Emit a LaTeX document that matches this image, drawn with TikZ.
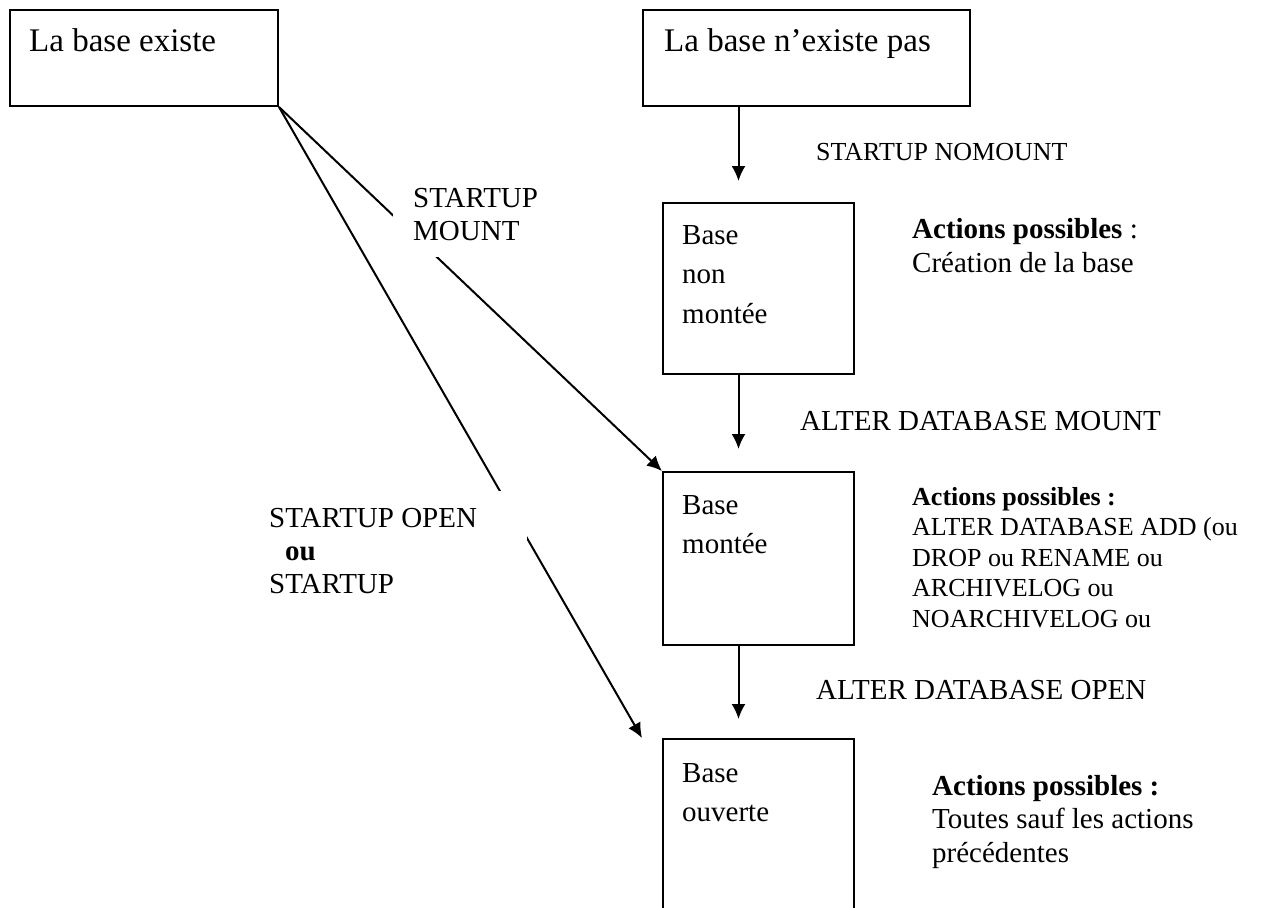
\documentclass[tikz,border=0pt]{standalone}
\usepackage{fontspec}
\setmainfont{Liberation Serif}
\usetikzlibrary{arrows.meta,positioning}

\begin{document}
\begin{tikzpicture}[x=1pt,y=-1pt,
    etat/.style={draw,line width=2pt,inner sep=0pt},
    titre/.style={anchor=base west,inner sep=0pt,font=\fontsize{33}{40}\selectfont},
    dedans/.style={anchor=base west,inner sep=0pt,align=flush left,text width=160pt,font=\fontsize{29}{39.5}\selectfont},
    cmd/.style={anchor=base west,inner sep=0pt,align=flush left,font=\fontsize{29}{33}\selectfont},
    bloc/.style={cmd,text width=#1},
    fleche/.style={line width=2pt,-{Latex[length=15pt,width=14pt]}}]
    \useasboundingbox (0,0) rectangle (1270,908);
    \clip (0,0) rectangle (1270,908);
    \fill[white] (0,0) rectangle (1270,908);

    % les etats
    \node[etat,minimum width=268pt,minimum height=96pt] (existe) at (144,58) {};
    \node[etat,minimum width=327pt,minimum height=96pt] (nexiste) at (806.5,58) {};
    \node[etat,minimum width=191pt,minimum height=171pt] (nonmonte) at (758.5,288.5) {};
    \node[etat,minimum width=191pt,minimum height=173pt] (monte) at (758.5,558.5) {};
    \node[etat,minimum width=191pt,minimum height=200pt] (ouverte) at (758.5,839) {};

    \node[titre] (existe-txt) at ([shift={(20,42)}]existe.north west) {La base existe};
    \node[titre] (nexiste-txt) at ([shift={(22,42)}]nexiste.north west) {La base n'existe pas};
    \node[dedans] (nonmonte-txt) at ([shift={(20,42)}]nonmonte.north west) {Base\\non\\montée};
    \node[dedans] (monte-txt) at ([shift={(20,43)}]monte.north west) {Base\\montée};
    \node[dedans] (ouverte-txt) at ([shift={(20,44)}]ouverte.north west) {Base\\ouverte};

    % fleches
    \draw[fleche] ([xshift=-20pt]nonmonte.north |- nexiste.south) -- ([xshift=-20pt,yshift=21pt]nonmonte.north);
    \draw[fleche] ([xshift=-20pt]nonmonte.south) -- ([xshift=-20pt,yshift=22pt]monte.north);
    \draw[fleche] ([xshift=-20pt]monte.south) -- ([xshift=-20pt,yshift=19pt]ouverte.north);
    \draw[fleche] (existe.south east) -- (monte.north west);
    \draw[fleche] (existe.south east) -- ([xshift=-20pt]ouverte.north west);

    % commandes
    \node[cmd,font=\fontsize{26}{30}\selectfont] (nomount) at (816,160) {STARTUP NOMOUNT};
    \node[cmd] (altermount) at (800,430) {ALTER DATABASE MOUNT};
    \node[cmd] (alteropen) at (816,699) {ALTER DATABASE OPEN};
    \node[bloc=150pt,fill=white,inner xsep=20pt,inner ysep=17pt] (startmount) at (393,207) {STARTUP\\MOUNT};
    \node[bloc=238pt,fill=white,inner xsep=20pt,inner ysep=17pt] (startopen) at (249,527)
        {STARTUP OPEN\\\hspace*{16pt}\textbf{ou}\\STARTUP};

    % actions possibles
    \node[bloc=340pt,font=\fontsize{29}{34}\selectfont] (act1) at (912,238)
        {\textbf{Actions possibles} :\\Création de la base};
    \node[bloc=350pt,font=\fontsize{26}{30.5}\selectfont] (act2) at (912,505)
        {\textbf{Actions possibles :}\\ALTER DATABASE ADD (ou\\DROP ou RENAME ou\\ARCHIVELOG ou\\NOARCHIVELOG ou};
    \node[bloc=330pt,font=\fontsize{29}{33.5}\selectfont] (act3) at (932,795)
        {\textbf{Actions possibles :}\\Toutes sauf les actions\\précédentes};
\end{tikzpicture}
\end{document}
